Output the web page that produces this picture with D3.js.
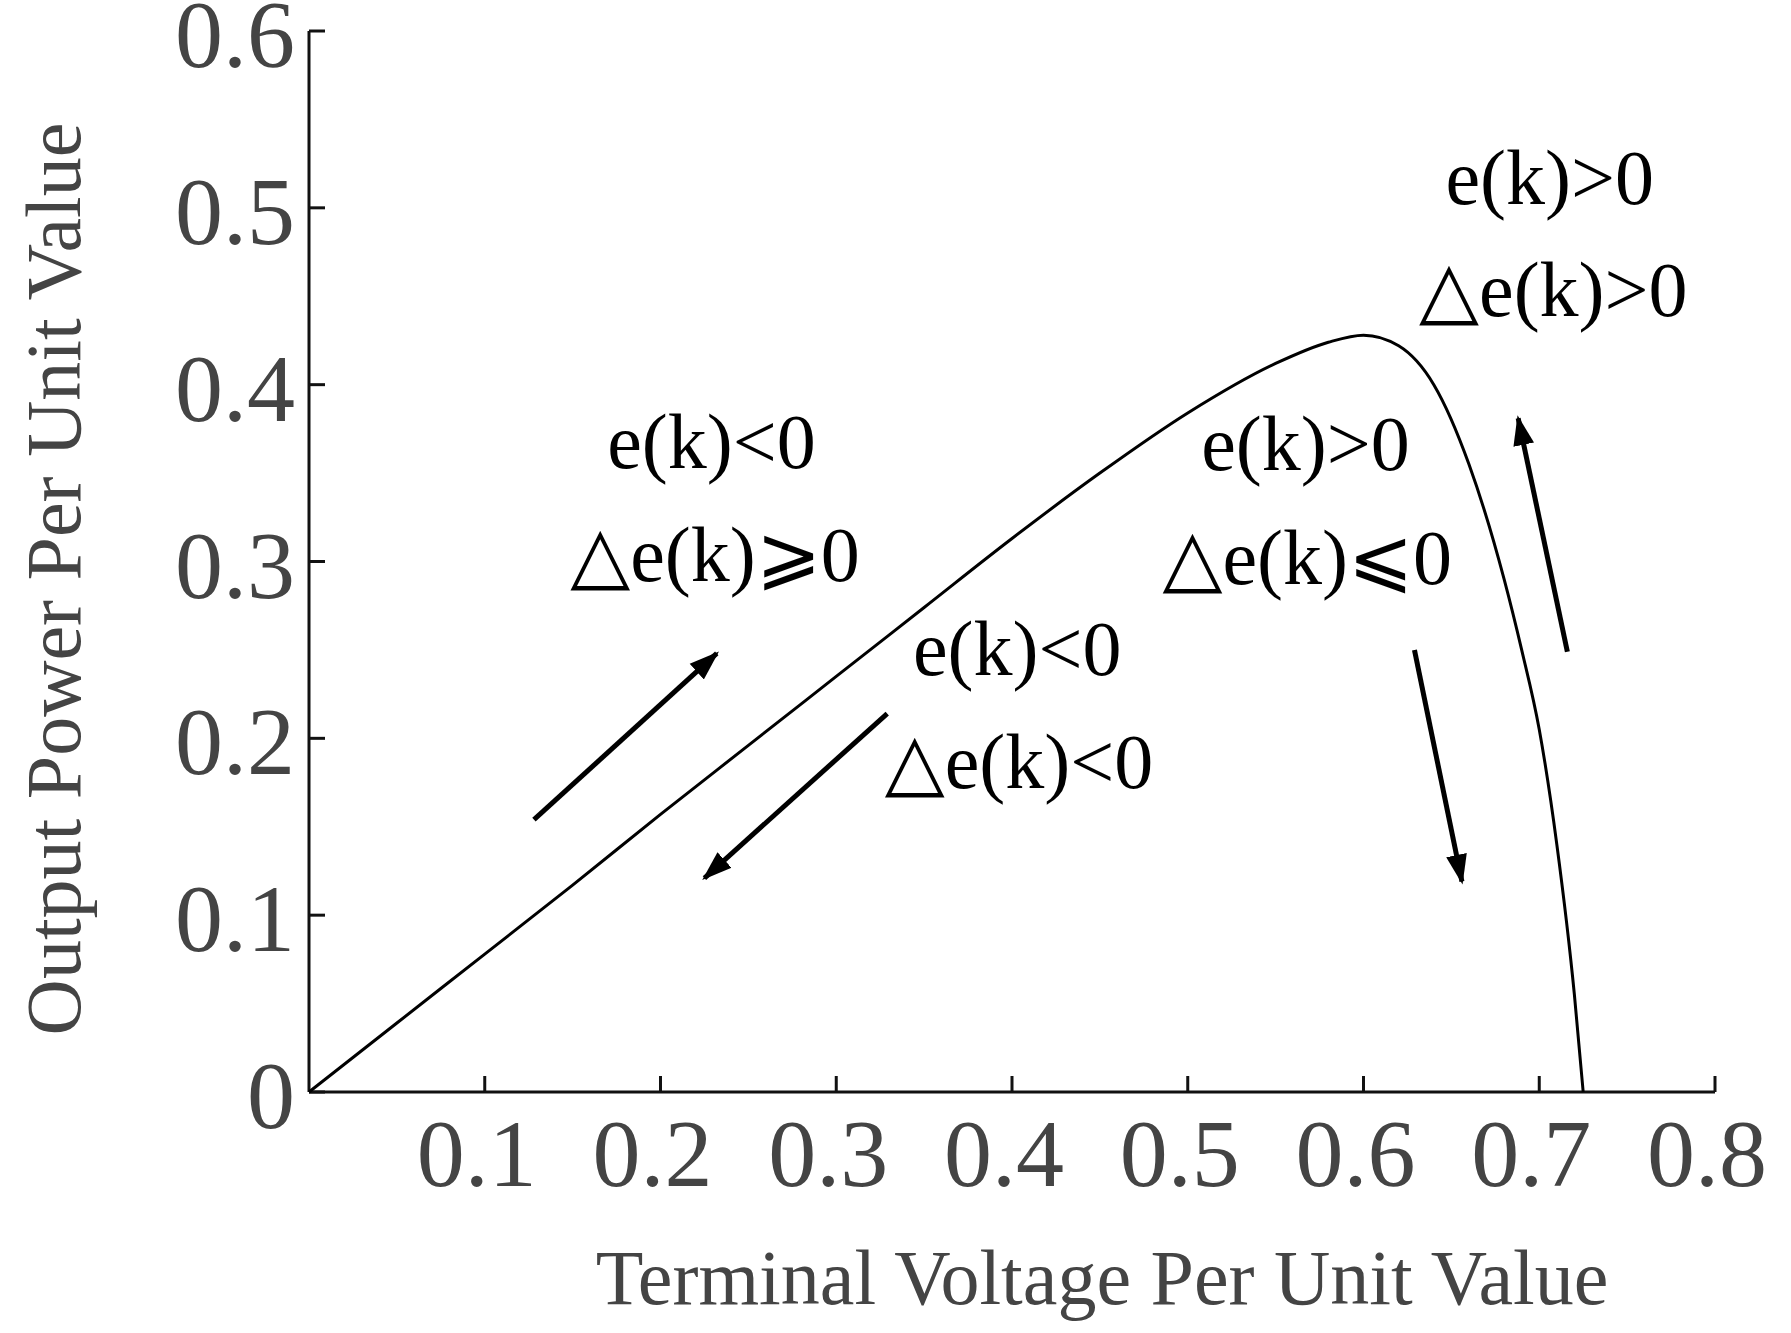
<!DOCTYPE html>
<html><head><meta charset="utf-8">
<script src="https://cdn.jsdelivr.net/npm/d3@7"></script>
<style>body{margin:0;background:#fff}</style>
</head><body><div id="chart"></div>
<script>
// P-U curve points (voltage pu, power pu)
const voltage = [0, 0.05, 0.1, 0.15, 0.2, 0.25, 0.3, 0.35, 0.4, 0.45, 0.5, 0.55, 0.58, 0.6, 0.62, 0.64, 0.66, 0.68, 0.69, 0.70, 0.71, 0.72, 0.725]
const power = [0, 0.039, 0.078, 0.117, 0.157, 0.196, 0.235, 0.274, 0.313, 0.35, 0.384, 0.412, 0.424, 0.428, 0.422, 0.40, 0.355, 0.29, 0.25, 0.205, 0.14, 0.055, 0]
const xTicks = [0.1, 0.2, 0.3, 0.4, 0.5, 0.6, 0.7, 0.8]
const yTicks = [0, 0.1, 0.2, 0.3, 0.4, 0.5, 0.6]
const labels = [
  {t: 'e(k)<0', x: 0.229, y: 0.353}, {t: '△e(k)⩾0', x: 0.231, y: 0.289},
  {t: 'e(k)>0', x: 0.567, y: 0.352}, {t: '△e(k)⩽0', x: 0.568, y: 0.287},
  {t: 'e(k)<0', x: 0.403, y: 0.236}, {t: '△e(k)<0', x: 0.404, y: 0.172},
  {t: 'e(k)>0', x: 0.706, y: 0.502}, {t: '△e(k)>0', x: 0.708, y: 0.439}
]
const arrows = [
  [0.128, 0.154, 0.232, 0.248],
  [0.329, 0.214, 0.225, 0.121],
  [0.629, 0.250, 0.656, 0.119],
  [0.716, 0.249, 0.688, 0.381]
]

const width = 1791, height = 1333
const svg = d3.select('#chart').append('svg').attr('width', width).attr('height', height)
  .style('font-family', '"Liberation Serif", "DejaVu Serif", serif')

const x = d3.scaleLinear().domain([0, 0.8]).range([309, 1715])
const y = d3.scaleLinear().domain([0, 0.6]).range([1092, 31])

// axes
svg.append('line').attr('x1', x(0)).attr('x2', x(0.8)).attr('y1', y(0)).attr('y2', y(0))
  .attr('stroke', '#111').attr('stroke-width', 3)
svg.append('line').attr('x1', x(0)).attr('x2', x(0)).attr('y1', y(0)).attr('y2', y(0.6))
  .attr('stroke', '#111').attr('stroke-width', 3)
svg.selectAll('.xt').data(xTicks).enter().append('line')
  .attr('x1', d => x(d)).attr('x2', d => x(d)).attr('y1', y(0)).attr('y2', y(0) - 16)
  .attr('stroke', '#111').attr('stroke-width', 3)
svg.selectAll('.yt').data(yTicks).enter().append('line')
  .attr('x1', x(0)).attr('x2', x(0) + 16).attr('y1', d => y(d)).attr('y2', d => y(d))
  .attr('stroke', '#111').attr('stroke-width', 3)
svg.selectAll('.xl').data(xTicks).enter().append('text')
  .attr('x', d => x(d) - 8).attr('y', y(0) + 94).attr('text-anchor', 'middle')
  .attr('font-size', 96).attr('fill', '#444').text(d => d)
svg.selectAll('.yl').data(yTicks).enter().append('text')
  .attr('x', x(0) - 14).attr('y', d => y(d) + 36).attr('text-anchor', 'end')
  .attr('font-size', 96).attr('fill', '#444').text(d => d)

// titles
svg.append('text').attr('x', 1102).attr('y', 1304).attr('text-anchor', 'middle')
  .attr('font-size', 78).attr('fill', '#444').text('Terminal Voltage Per Unit Value')
svg.append('text').attr('transform', 'translate(80,579) rotate(-90)').attr('text-anchor', 'middle')
  .attr('font-size', 78).attr('fill', '#444').text('Output Power Per Unit Value')

// curve
const pts = voltage.map((v, i) => [v, power[i]])
svg.append('path').datum(pts)
  .attr('d', d3.line().x(d => x(d[0])).y(d => y(d[1])).curve(d3.curveMonotoneX))
  .attr('fill', 'none').attr('stroke', '#000').attr('stroke-width', 3)

// arrows
svg.append('defs').append('marker').attr('id', 'ah').attr('viewBox', '0 0 10 10')
  .attr('refX', 9).attr('refY', 5).attr('markerWidth', 6).attr('markerHeight', 6)
  .attr('orient', 'auto').append('path').attr('d', 'M0,1.5 L10,5 L0,8.5 Z').attr('fill', '#000')
svg.selectAll('.arr').data(arrows).enter().append('line')
  .attr('x1', d => x(d[0])).attr('y1', d => y(d[1])).attr('x2', d => x(d[2])).attr('y2', d => y(d[3]))
  .attr('stroke', '#000').attr('stroke-width', 5).attr('marker-end', 'url(#ah)')

// annotations
svg.selectAll('.ann').data(labels).enter().append('text')
  .attr('x', d => x(d.x)).attr('y', d => y(d.y)).attr('text-anchor', 'middle')
  .attr('font-size', 78).attr('fill', '#000').text(d => d.t)
</script>
</body></html>
